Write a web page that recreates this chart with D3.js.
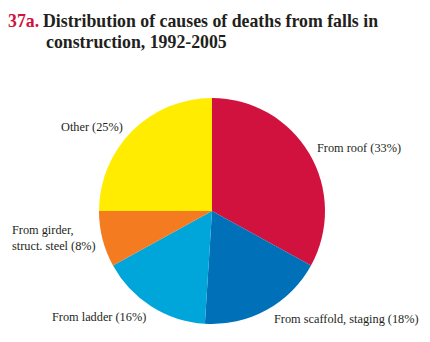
<!DOCTYPE html>
<html><head><meta charset="utf-8">
<script src="https://cdn.jsdelivr.net/npm/d3@7"></script>
<style>body{margin:0;background:#fff}svg{display:block}</style>
</head><body>
<script>
const categories = ["From roof", "From scaffold, staging", "From ladder", "From girder, struct. steel", "Other"];
const values = [33, 18, 16, 8, 25];
const colors = ["#D2123E", "#0070B9", "#00A5DA", "#F47B20", "#FFEC00"];
const labelLines = [["From roof (33%)"], ["From scaffold, staging (18%)"], ["From ladder (16%)"], ["From girder,", "struct. steel (8%)"], ["Other (25%)"]];
const labelPos = [[317,152,"start"],[274,323,"start"],[52,321,"start"],[12,234,"start"],[61,131,"start"]];

const W = 430, H = 342;
const svg = d3.select("body").append("svg").attr("width", W).attr("height", H);

const title = svg.append("text").attr("font-family","Liberation Serif, Times New Roman, serif")
  .attr("font-weight","bold").attr("font-size",17.8);
title.append("tspan").attr("x",8).attr("y",27).attr("fill","#D2123E").text("37a.");
title.append("tspan").attr("x",43).attr("y",27).attr("fill","#231F20").text("Distribution of causes of deaths from falls in");
title.append("tspan").attr("x",46).attr("y",48).attr("fill","#231F20").text("construction, 1992-2005");

const cx = 212, cy = 211, r = 113;
const pie = d3.pie().sort(null).value(d => d)(values);
const arc = d3.arc().innerRadius(0).outerRadius(r);
const g = svg.append("g").attr("transform", `translate(${cx},${cy})`);
g.selectAll("path").data(pie).join("path").attr("d", arc).attr("fill", (d,i) => colors[i]);

labelLines.forEach((lines, i) => {
  const t = svg.append("text").attr("font-family","Liberation Serif, Times New Roman, serif")
    .attr("font-size",12.3).attr("fill","#231F20").attr("text-anchor",labelPos[i][2]);
  lines.forEach((l, j) => t.append("tspan").attr("x", labelPos[i][0]).attr("y", labelPos[i][1] + j*16).text(l));
});
</script>
</body></html>
